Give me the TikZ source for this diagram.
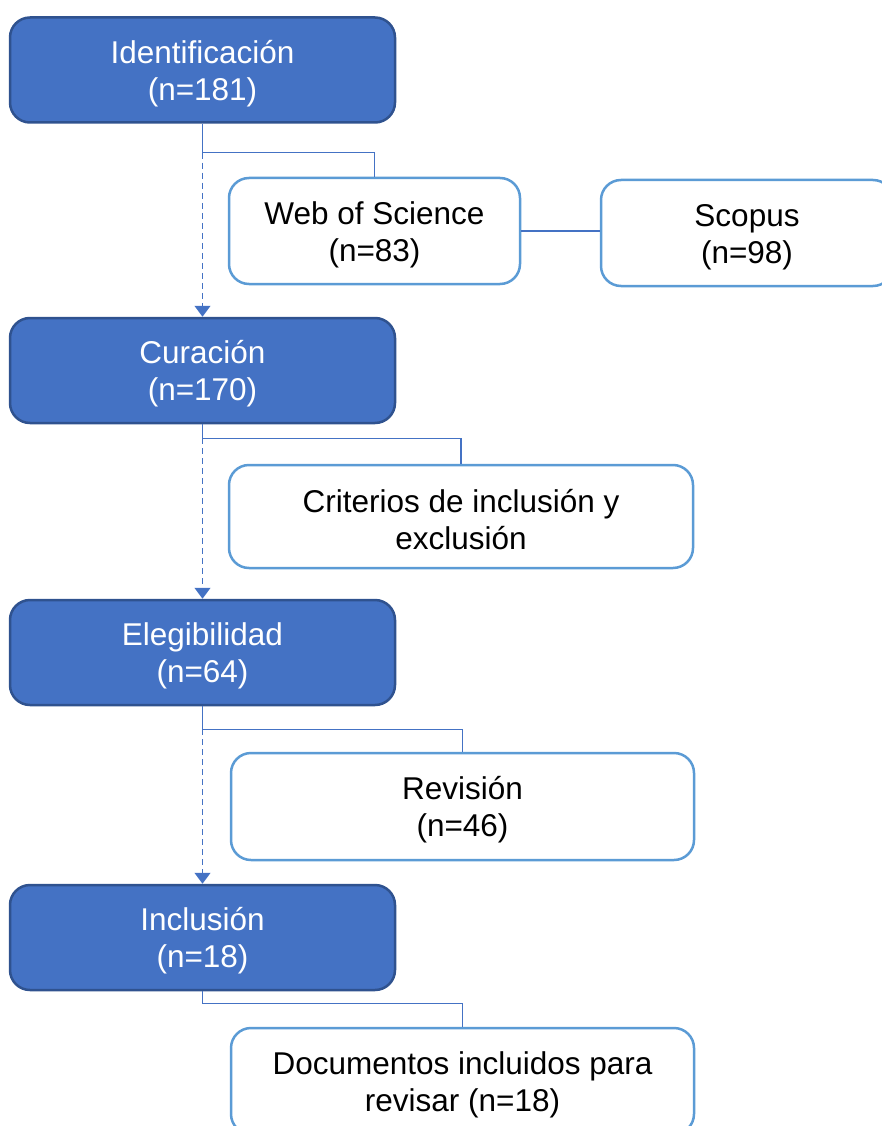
\documentclass[tikz,border=0pt]{standalone}
\usepackage{fontspec}
\setmainfont{Liberation Sans}
\usepackage{tikz}
\usetikzlibrary{arrows.meta,positioning,calc}

\definecolor{stepblue}{HTML}{4472C4}
\definecolor{stepedge}{HTML}{2F528F}
\definecolor{infoedge}{HTML}{5B9BD5}

\tikzset{
  stagebox/.style={rounded corners=20pt, fill=stepblue, draw=stepedge, line width=2.5pt,
    text=white, align=center, minimum width=385pt, minimum height=105pt,
    font=\fontsize{31.5}{37}\selectfont},
  infobox/.style={rounded corners=20pt, fill=white, draw=infoedge, line width=2.5pt,
    text=black, align=center, minimum height=106pt,
    font=\fontsize{31.5}{37}\selectfont},
  link/.style={draw=stepblue, line width=1.3pt},
  flow/.style={link, dash pattern=on 6pt off 4pt, -{Triangle[width=16pt,length=11pt]}}
}
% pushes the two lines a little down in their box
\newcommand{\padtop}{\rule{0pt}{30pt}}

\begin{document}
\begin{tikzpicture}[x=1pt, y=1pt]
    \useasboundingbox (0,0) rectangle (881,-1126);
    % stages
    \node[stagebox] (ident) at (202.5, -70) {\padtop Identificación\\(n=181)};
    \node[stagebox] (cur) at (202.5, -370.5) {\padtop Curación\\(n=170)};
    \node[stagebox] (eleg) at (202.5, -652.5) {\padtop Elegibilidad\\(n=64)};
    \node[stagebox] (incl) at (202.5, -937.5) {\padtop Inclusión\\(n=18)};
    % side boxes
    \node[infobox, minimum width=291pt] (wos) at (374.5, -231) {\padtop Web of Science\\(n=83)};
    \node[infobox, minimum width=292pt] (scop) at (747, -233) {\padtop Scopus\\(n=98)};
    \node[infobox, minimum width=464pt, minimum height=103pt] (crit) at (461, -516.5) {\padtop Criterios de inclusión y\\exclusión};
    \node[infobox, minimum width=463pt, minimum height=107pt] (rev) at (462.5, -806.5) {\padtop Revisión\\(n=46)};
    \node[infobox, minimum width=463pt] (docs) at (462.5, -1081) {\padtop Documentos incluidos para\\revisar (n=18)};
    % junctions
    \coordinate (j1) at ($(ident.south)+(0,-29)$);
    \coordinate (j2) at ($(cur.south)+(0,-14)$);
    \coordinate (j3) at ($(eleg.south)+(0,-23)$);
    \coordinate (j4) at ($(incl.south)+(0,-12)$);
    \draw[link] (ident.south) -- (j1) -| (wos.north);
    \draw[link] (cur.south) -- (j2) -| (crit.north);
    \draw[link] (eleg.south) -- (j3) -| (rev.north);
    \draw[link] (incl.south) -- (j4) -| (docs.north);
    \draw[link] (wos.east) -- (wos.east -| scop.west);
    \draw[flow] (j1) -- (cur.north);
    \draw[flow] (j2) -- (eleg.north);
    \draw[flow] (j3) -- (incl.north);
\end{tikzpicture}
\end{document}
